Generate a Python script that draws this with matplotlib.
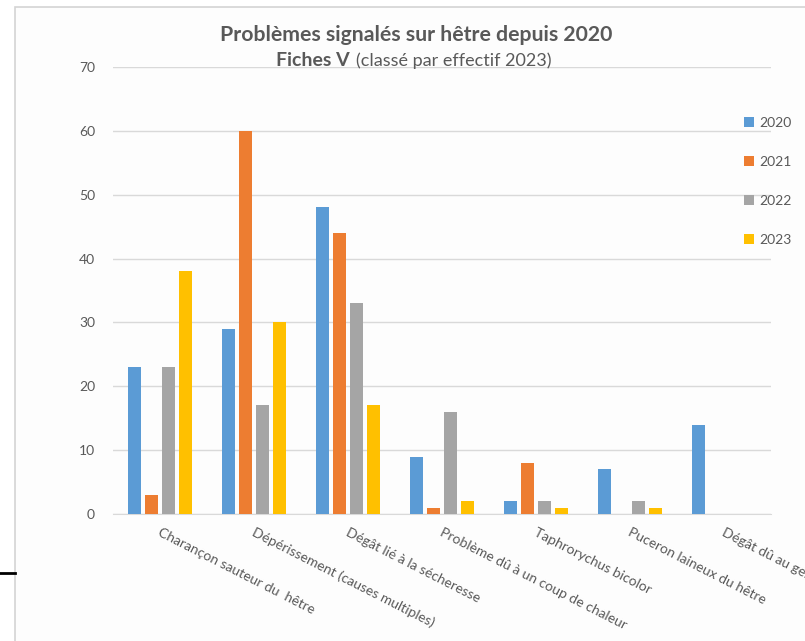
import matplotlib.pyplot as plt
import numpy as np
from matplotlib.lines import Line2D
from matplotlib.patches import Rectangle

plt.rcParams['font.family'] = ['Lato', 'DejaVu Sans']

categories = ['Charançon sauteur du  hêtre', 'Dépérissement (causes multiples)',
              'Dégât lié à la sécheresse', 'Problème dû à un coup de chaleur',
              'Taphrorychus bicolor', 'Puceron laineux du hêtre', 'Dégât dû au gel']
years = ['2020', '2021', '2022', '2023']
v2020 = [23, 29, 48, 9, 2, 7, 14]
v2021 = [3, 60, 44, 1, 8, 0, 0]
v2022 = [23, 17, 33, 16, 2, 2, 0]
v2023 = [38, 30, 17, 2, 1, 1, 0]
colors = ['#5B9BD5', '#ED7D31', '#A5A5A5', '#FFC000']

text_col = '#595959'

fig = plt.figure(figsize=(8.05, 6.41), dpi=100)
fig.patch.set_facecolor('white')
# chart frame (cropped screenshot of a spreadsheet chart)
fig.add_artist(Rectangle((15 / 805, -0.1), 1.0, 1 - 7 / 641 + 0.1, transform=fig.transFigure,
                         facecolor='#fdfdfd', edgecolor='#d4d4d4', linewidth=1.2, zorder=-10))
fig.add_artist(Line2D([0, 15 / 805], [1 - 573 / 641] * 2, transform=fig.transFigure,
                      color='black', linewidth=2))

ax = fig.add_axes([113 / 805, 1 - 514 / 641, 658 / 805, 447 / 641])
ax.set_facecolor('none')

x = np.arange(len(categories))
pitch = 0.18
width = 0.14
for i, (vals, col) in enumerate(zip([v2020, v2021, v2022, v2023], colors)):
    ax.bar(x + (i - 1.5) * pitch, vals, width, color=col, label=years[i], zorder=3)

ax.set_xlim(-0.5, len(categories) - 0.5)
ax.set_ylim(0, 70)
ax.set_yticks(range(0, 71, 10))
ax.grid(axis='y', color='#d9d9d9', linewidth=1, zorder=0)
for s in ['top', 'right', 'left']:
    ax.spines[s].set_visible(False)
ax.spines['bottom'].set_color('#d9d9d9')
ax.tick_params(axis='y', length=0, labelsize=10, labelcolor=text_col, pad=13)
ax.tick_params(axis='x', length=0)
ax.set_xticks(x)
ax.set_xticklabels([])
for xi, lab in zip(x, categories):
    ax.text(xi + 0.02, -1.9, lab, rotation=-27, rotation_mode='anchor', ha='left', va='top',
            fontsize=10, color=text_col, clip_on=False)

fig.text(416 / 805, 1 - 35 / 641, 'Problèmes signalés sur hêtre depuis 2020', ha='center',
         va='center', fontsize=15.3, fontweight='bold', color=text_col)
fig.text(350 / 805, 1 - 60 / 641, 'Fiches V', ha='right', va='center', fontsize=14,
         fontweight='bold', color=text_col)
fig.text(356 / 805, 1 - 61 / 641, '(classé par effectif 2023)', ha='left', va='center',
         fontsize=13, color=text_col)

fig.legend(loc='upper left', bbox_to_anchor=(737 / 805, 1 - 110 / 641), frameon=False,
           fontsize=10, labelcolor=text_col, handlelength=0.7, handleheight=0.7,
           handletextpad=0.4, labelspacing=1.95, borderpad=0)

fig.savefig('out.png', dpi=100)
